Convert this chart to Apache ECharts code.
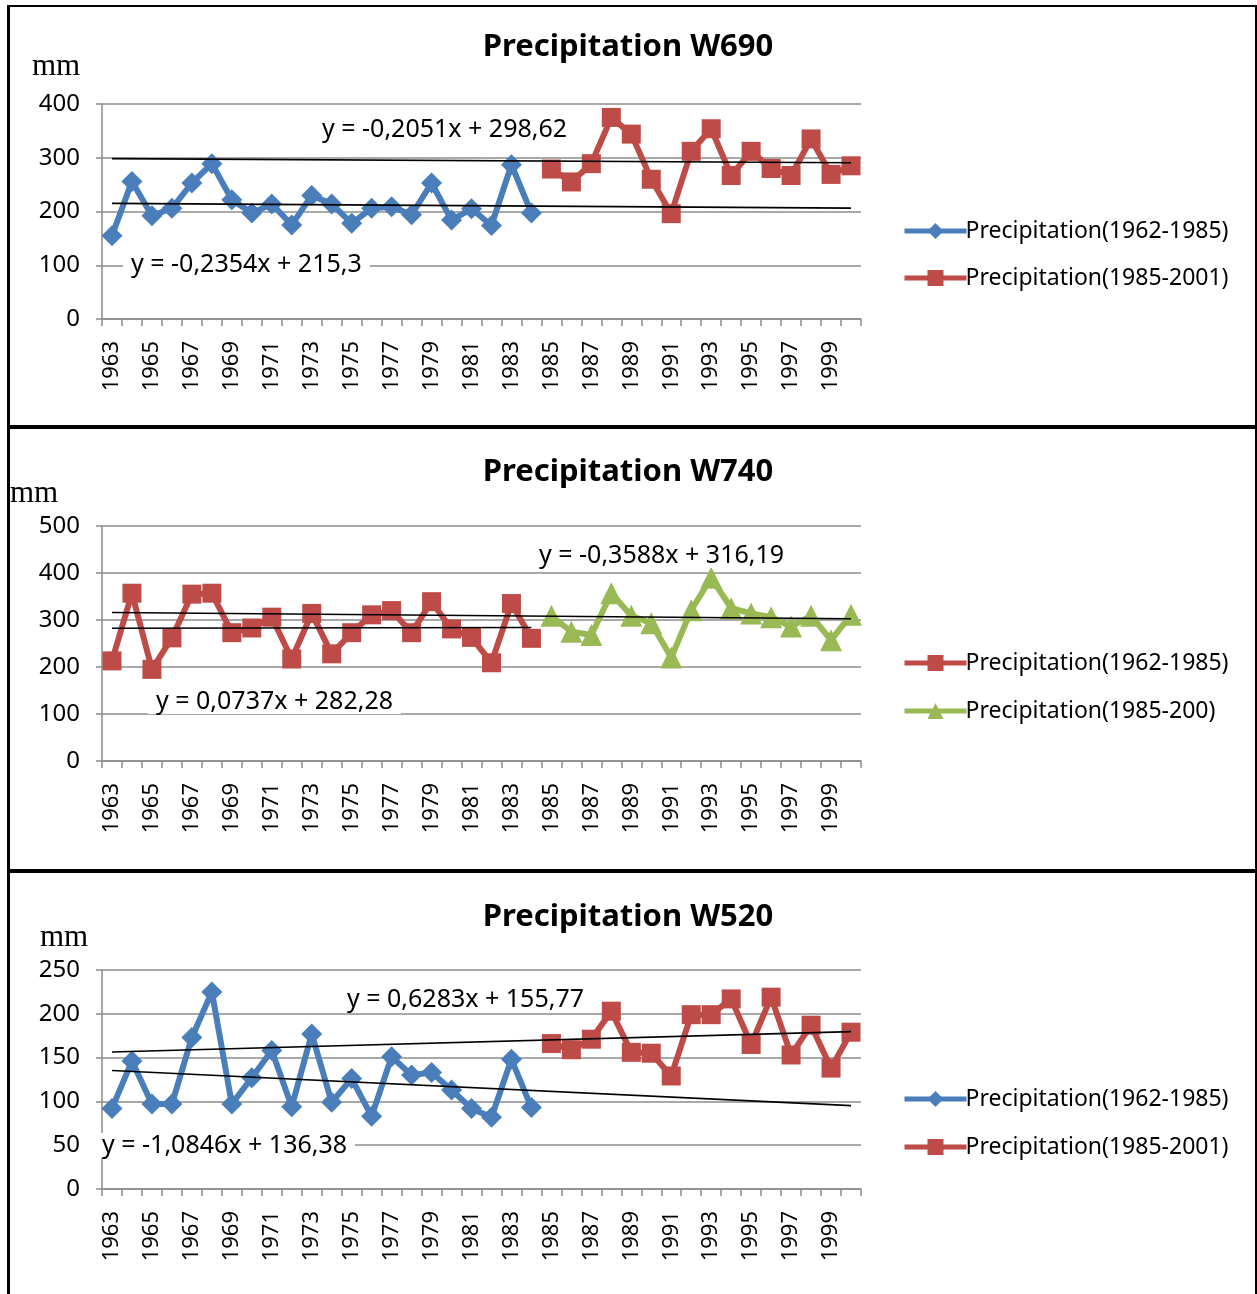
<!DOCTYPE html>
<html>
<head>
<meta charset="utf-8">
<script src="https://cdn.jsdelivr.net/npm/echarts@6/dist/echarts.min.js"></script>
<style>
  html, body { margin: 0; padding: 0; background: #fff; width: 1257px; height: 1294px; overflow: hidden; }
  .ln { position: absolute; background: #000; }
  .panel { position: absolute; left: 10px; width: 1245px; }
</style>
</head>
<body>
<div class="ln" style="left:7px;top:5px;width:3px;height:1289px;"></div>
<div class="ln" style="left:7px;top:5px;width:1250px;height:2px;"></div>
<div class="ln" style="left:1255px;top:5px;width:2px;height:1289px;"></div>
<div id="c1" class="panel" style="top:7px;height:418px;"></div>
<div class="ln" style="left:7px;top:425px;width:1250px;height:4px;"></div>
<div id="c2" class="panel" style="top:429px;height:440px;"></div>
<div class="ln" style="left:7px;top:869px;width:1250px;height:4px;"></div>
<div id="c3" class="panel" style="top:873px;height:421px;"></div>
<script>
// ---- Data ----
const years = ['1963','1964','1965','1966','1967','1968','1969','1970','1971','1972','1973','1974','1975','1976','1977','1978','1979','1980','1981','1982','1983','1984','1985','1986','1987','1988','1989','1990','1991','1992','1993','1994','1995','1996','1997','1998','1999','2000'];

// W690
const w690Early = [155,256,192,206,253,289,222,197,214,175,230,214,178,206,209,194,253,184,205,174,287,197];
const w690Late  = [279,255,289,375,344,260,196,312,354,267,312,280,267,335,269,285];
const w690TrendEarly = { slope: -0.2354, intercept: 215.3, label: 'y = -0,2354x + 215,3' };
const w690TrendLate  = { slope: -0.2051, intercept: 298.62, label: 'y = -0,2051x + 298,62' };

// W740
const w740Early = [213,357,195,262,355,357,273,283,306,217,314,228,273,311,320,273,339,281,263,209,335,261];
const w740Late  = [309,275,268,357,309,293,220,321,390,325,314,306,286,309,257,311];
const w740TrendEarly = { slope: 0.0737, intercept: 282.28, label: 'y = 0,0737x + 282,28' };
const w740TrendLate  = { slope: -0.3588, intercept: 316.19, label: 'y = -0,3588x + 316,19' };

// W520
const w520Early = [92,146,97,97,173,225,97,127,158,94,177,99,126,83,151,130,133,113,92,82,148,93];
const w520Late  = [166,159,171,203,156,155,129,199,199,217,165,219,153,187,138,179];
const w520TrendEarly = { slope: -1.0846, intercept: 136.38, label: 'y = -1,0846x + 136,38' };
const w520TrendLate  = { slope: 0.6283, intercept: 155.77, label: 'y = 0,6283x + 155,77' };

const BLUE = '#4A7EBB', RED = '#BE4B48', GREEN = '#98B954', GRID = '#8C8C8C';
const FONT = '"Noto Sans", "DejaVu Sans", sans-serif';

function padEarly(arr) { return years.map((y, i) => i < arr.length ? arr[i] : null); }
function padLate(arr) { const off = years.length - arr.length; return years.map((y, i) => i >= off ? arr[i - off] : null); }
function trendData(t, endIdx) {
  // two end points of the trendline equation (x counted from 1 along the category axis)
  return years.map((y, i) => (i === 0 || i === endIdx) ? +(t.slope * (i + 1) + t.intercept).toFixed(3) : null);
}
function marker(type) {
  return { diamond: 'diamond', square: 'rect', triangle: 'triangle' }[type];
}
function lineSeries(name, data, color, sym, size) {
  return {
    name, type: 'line', data, symbol: marker(sym), symbolSize: size,
    showSymbol: true, showAllSymbol: true, connectNulls: false, z: 3,
    lineStyle: { color, width: 6 }, itemStyle: { color },
    animation: false
  };
}
function trendSeries(data) {
  return {
    type: 'line', data, symbol: 'none', connectNulls: true, z: 4, silent: true,
    lineStyle: { color: '#000', width: 1.6 }, animation: false
  };
}
function eqLabel(text, x, y) {
  return {
    type: 'text', left: x, top: y, z: 10,
    style: { text, fill: '#000', font: '25px ' + FONT, backgroundColor: '#fff', padding: [0, 8, 0, 8] }
  };
}

function build(el, cfg) {
  const chart = echarts.init(document.getElementById(el), null, { renderer: 'canvas' });
  chart.setOption({
    animation: false,
    backgroundColor: '#fff',
    title: {
      text: cfg.title, left: 613, top: cfg.titleTop, textAlign: 'center',
      textStyle: { fontFamily: FONT, fontWeight: 'bold', fontSize: 31, color: '#000' }
    },
    legend: {
      orient: 'vertical', left: 887, top: cfg.legendTop, itemWidth: 62, itemHeight: 20,
      itemGap: cfg.legendGap, selectedMode: false,
      data: [cfg.s1.name, cfg.s2.name],
      lineStyle: { width: 5 },
      textStyle: { fontFamily: FONT, fontSize: 23, color: '#000', lineHeight: 30, padding: [0, 0, 0, -6] }
    },
    grid: { left: 92, right: 394, top: 97, bottom: cfg.gridBottom, containLabel: false },
    xAxis: {
      type: 'category', data: years, boundaryGap: true,
      axisLine: { lineStyle: { color: GRID, width: 1.5 } },
      axisTick: { show: true, interval: 0, alignWithLabel: false, length: 7, lineStyle: { color: GRID, width: 1.5 } },
      axisLabel: { interval: 1, rotate: 90, margin: 22, fontFamily: FONT, fontSize: 22, color: '#000' },
      splitLine: { show: false }
    },
    yAxis: {
      type: 'value', min: 0, max: cfg.yMax, interval: cfg.yStep,
      axisLine: { show: true, lineStyle: { color: GRID, width: 1.5 } },
      axisTick: { show: true, length: 6, lineStyle: { color: GRID, width: 1.5 } },
      axisLabel: { margin: 22, fontFamily: FONT, fontSize: 24, color: '#000' },
      splitLine: { show: true, lineStyle: { color: GRID, width: 1.5 } }
    },
    graphic: [
      { type: 'text', left: cfg.mmLeft, top: cfg.mmTop, style: { text: 'mm', fill: '#000', font: '31px "Liberation Serif", "DejaVu Serif", serif' } },
      eqLabel(cfg.t2.label, cfg.eq2[0], cfg.eq2[1]),
      eqLabel(cfg.t1.label, cfg.eq1[0], cfg.eq1[1])
    ],
    series: [
      lineSeries(cfg.s1.name, padEarly(cfg.s1.data), cfg.s1.color, cfg.s1.sym, cfg.s1.size),
      lineSeries(cfg.s2.name, padLate(cfg.s2.data), cfg.s2.color, cfg.s2.sym, cfg.s2.size),
      trendSeries(trendData(cfg.t1, cfg.t1End)),
      trendSeries(trendData(cfg.t2, years.length - 1))
    ]
  });
}

build('c1', {
  title: 'Precipitation W690', titleTop: 20, yMax: 400, yStep: 100, gridBottom: 106,
  legendTop: 204, legendGap: 17, mmLeft: 22, mmTop: 44,
  s1: { name: 'Precipitation(1962-1985)', data: w690Early, color: BLUE, sym: 'diamond', size: 21 },
  s2: { name: 'Precipitation(1985-2001)', data: w690Late, color: RED, sym: 'square', size: 19 },
  t1: w690TrendEarly, t1End: years.length - 1, t2: w690TrendLate,
  eq1: [113, 245], eq2: [304, 110]
});
build('c2', {
  title: 'Precipitation W740', titleTop: 23, yMax: 500, yStep: 100, gridBottom: 108,
  legendTop: 214, legendGap: 18, mmLeft: 0, mmTop: 49,
  s1: { name: 'Precipitation(1962-1985)', data: w740Early, color: RED, sym: 'square', size: 19 },
  s2: { name: 'Precipitation(1985-200)', data: w740Late, color: GREEN, sym: 'triangle', size: 22 },
  t1: w740TrendEarly, t1End: w740Early.length - 1, t2: w740TrendLate,
  eq1: [138, 260], eq2: [521, 114]
});
build('c3', {
  title: 'Precipitation W520', titleTop: 24, yMax: 250, yStep: 50, gridBottom: 105,
  legendTop: 206, legendGap: 18, mmLeft: 30, mmTop: 49,
  s1: { name: 'Precipitation(1962-1985)', data: w520Early, color: BLUE, sym: 'diamond', size: 21 },
  s2: { name: 'Precipitation(1985-2001)', data: w520Late, color: RED, sym: 'square', size: 19 },
  t1: w520TrendEarly, t1End: years.length - 1, t2: w520TrendLate,
  eq1: [84, 260], eq2: [329, 114]
});
</script>
</body>
</html>
